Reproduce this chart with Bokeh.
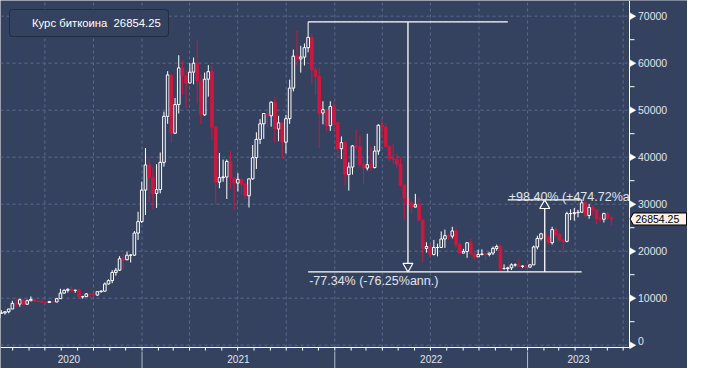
import pandas as pd
import numpy as np
from bokeh.plotting import figure
from bokeh.models import Range1d, Legend, LegendItem
from bokeh.core.properties import value
from bokeh.embed import file_html
from bokeh.resources import INLINE

# ---------------- data (weekly candles) ----------------
series_name = "Курс биткоина"
week_start = "2020-03-30"
first_open = 5880
close = [
    6780, 6900, 7120, 7700, 8900, 8750, 9670, 8720, 9450, 9750, 9380, 9300, 9120,
    9080, 9280, 9200, 9900, 11080, 11680, 11900, 11650, 11700, 10280, 10330, 10920,
    10780, 10670, 11380, 11500, 13030, 13740, 15480, 15960, 18400, 18180, 19150,
    19150, 23860, 26300, 33000,
    38350, 35800, 32300, 33100, 38900, 48700, 57500, 45100, 51200, 59000, 57350,
    55800, 58100, 60000, 56200, 49000, 56600, 58200, 46400, 34700, 35650, 35800,
    39100, 35600, 34500, 35300, 34260, 31800, 35400, 39900, 43800, 47100, 49300,
    48800, 51700, 46000, 47300, 43200, 48200, 54700, 61500, 60900, 61300, 63300,
    65500, 58600, 57200, 49400, 50100, 46700, 50800, 47300,
    41800, 43100, 36300, 37900, 42400, 42200, 38400, 37700, 38400, 37800, 41300,
    46800, 46400, 42300, 39700, 39500, 38500, 34100, 31300, 30300, 29400, 29900,
    26600, 20600, 21000, 19300, 20800, 20800, 22600, 23300, 23200, 24300, 21500,
    19600, 19950, 21800, 19400, 18800, 19300, 19400, 19300, 19600, 20600, 21000,
    16300, 16300, 16450, 17100, 17100, 16750, 16850, 16600,
    17100, 20900, 22700, 23700, 22900, 21800, 24600, 23500, 22400, 22100, 28000,
    28000, 28200, 28300, 30300, 27600, 29300, 28800, 26900, 26800, 28000, 27100,
    26854.25,
]
high = [
    7200, 7470, 7250, 7730, 9450, 10000, 9900, 9850, 9700, 10380, 9950, 9600, 9780,
    9300, 9430, 9300, 10050, 12000, 11900, 12100, 12480, 11800, 12050, 10500, 11100,
    10960, 10950, 11430, 11700, 13350, 14000, 15960, 16450, 18950, 19450, 19900,
    19400, 24280, 28400, 34800,
    41950, 40100, 37900, 38500, 41000, 49700, 58300, 57500, 52600, 61700, 60600,
    58400, 60000, 61200, 64900, 57500, 58000, 59600, 59500, 46600, 40900, 39500,
    39500, 41300, 35800, 36600, 35100, 34600, 35400, 42600, 45300, 48100, 49400,
    50500, 51900, 52900, 48800, 47000, 49000, 56500, 62900, 67000, 63700, 64200,
    68789, 66300, 59300, 59100, 51900, 50000, 51900, 52000,
    47500, 44400, 43500, 38900, 42600, 45800, 44500, 39800, 45000, 42400, 42400,
    47000, 48200, 47200, 42400, 42900, 40800, 40000, 34200, 31300, 30600, 32200,
    31500, 26900, 21900, 21500, 22400, 21600, 24200, 24600, 23600, 25200, 25000,
    21800, 20500, 21800, 22700, 19700, 20300, 20400, 19500, 19700, 21000, 21400,
    21400, 17200, 16700, 17400, 17400, 18400, 17000, 16900,
    17200, 21200, 23300, 23900, 24200, 23400, 25200, 25100, 23900, 22600, 28400,
    28900, 29200, 28800, 30927, 30500, 30000, 29800, 28900, 27600, 28200, 28400,
    27400,
]
low = [
    5860, 6780, 6500, 6800, 7700, 8100, 8200, 8700, 8650, 9400, 9250, 9200, 8950,
    8950, 9080, 9050, 9150, 9900, 11050, 11200, 11350, 11150, 9900, 9900, 10250,
    10150, 10400, 10530, 11200, 11400, 12900, 13200, 14800, 15800, 16300, 18100,
    17600, 19000, 22400, 26000,
    27700, 30400, 28900, 29200, 32300, 38000, 47100, 43000, 45000, 49300, 53300,
    50400, 55700, 55500, 51500, 47000, 48800, 52900, 43800, 30000, 33400, 34800,
    31100, 33300, 28800, 32700, 32100, 31100, 29300, 35200, 37500, 42800, 43900,
    46400, 46500, 43000, 43400, 39600, 40800, 47100, 54000, 59500, 58000, 59500,
    62300, 55600, 53300, 42000, 47000, 45500, 45600, 45700,
    39700, 39600, 34000, 32900, 36300, 41700, 38000, 34300, 37200, 37200, 37600,
    40500, 44200, 42100, 39200, 38600, 37700, 33700, 26700, 28700, 28000, 29300,
    26600, 17600, 19700, 18700, 19100, 18900, 20800, 20700, 22400, 22700, 20800,
    19600, 19600, 18600, 19300, 18200, 18800, 19100, 18200, 18900, 19200, 20100,
    15700, 16100, 15588, 16000, 16700, 16600, 16400, 16400,
    16600, 17100, 20400, 22300, 22500, 21500, 21400, 22900, 22000, 19600, 21900,
    26600, 26500, 27200, 28200, 27100, 26900, 27700, 25800, 26300, 26100, 26600,
    25400,
]
year_labels = ["2020", "2021", "2022", "2023"]
y_ticks = [0, 10000, 20000, 30000, 40000, 50000, 60000, 70000]
y_tick_labels = ["0", "10000", "20000", "30000", "40000", "50000", "60000", "70000"]
y_minor = [5000, 15000, 25000, 35000, 45000, 55000, 65000]
down_ann = "(-76.25%ann.)"
up_ann = "(+474.72%ann.)"

# ---------------- styling ----------------
BG = "#34425f"
GRID = "#5b6b8e"
RED = "#cc1840"
TXT = "#e1e5ec"
FONT = "Liberation Sans"

W, H = 687, 368
AX_PX = 629            # pixel column of the price axis line
x_start = pd.Timestamp("2020-04-08")
x_axis = pd.Timestamp("2023-07-13")
per_px = (x_axis - x_start) / AX_PX
x_end = x_start + per_px * W
y_start, y_end = -4957.0, 73340.0
dv = (y_end - y_start) / H  # data units per pixel (vertical)


def v_at(py):
    return y_end - py * dv


def x_at(px):
    return x_start + per_px * px


opens = [first_open] + close[:-1]
dates = pd.date_range(week_start, periods=len(close), freq="7D")
centers = dates + pd.Timedelta(days=3.5)
o = np.array(opens, dtype=float)
c = np.array(close, dtype=float)
hi = np.array(high, dtype=float)
lo = np.array(low, dtype=float)
up = c >= o
dn = ~up

p = figure(width=W, height=H, x_range=Range1d(x_start, x_end),
           y_range=Range1d(y_start, y_end), x_axis_type="datetime",
           x_axis_location=None, y_axis_location=None,
           output_backend="svg", toolbar_location=None,
           min_border_left=0, min_border_top=0, min_border_bottom=0,
           min_border_right=0)
p.background_fill_color = BG
p.border_fill_color = BG
p.outline_line_color = None
p.grid.visible = False

v_axis = v_at(347)
n_t = len(y_ticks)

# grid
p.segment(x0=[x_start] * n_t, x1=[x_axis] * n_t, y0=y_ticks, y1=y_ticks,
          line_color=GRID, line_dash="3 3", line_width=1)
quarters = pd.date_range("2020-04-01", x_axis, freq="QS")
p.segment(x0=quarters, x1=quarters, y0=[v_axis] * len(quarters), y1=[y_end] * len(quarters),
          line_color=GRID, line_dash="3 3", line_width=1)

# candles: hollow white for rising weeks, filled red for falling weeks
wid = 5.0 * 24 * 3600 * 1000
p.segment(x0=centers[up], x1=centers[up], y0=hi[up], y1=lo[up], line_color="white", line_width=1)
p.segment(x0=centers[dn], x1=centers[dn], y0=hi[dn], y1=lo[dn], line_color=RED, line_width=1)
p.vbar(x=centers[up], width=wid, top=np.maximum(o, c)[up], bottom=np.minimum(o, c)[up],
       fill_color=BG, line_color="white", line_width=1)
p.vbar(x=centers[dn], width=wid, top=np.maximum(o, c)[dn], bottom=np.minimum(o, c)[dn],
       fill_color=RED, line_color=RED, line_width=1)

# drawdown / recovery annotation
ip = int(np.argmax(hi))
it = ip + int(np.argmin(lo[ip:]))
ir = it + int(np.argmax(hi[it:]))
px, tx, rx = centers[ip], centers[it], centers[ir]
pv, tv, rv = hi[ip], lo[it], hi[ir]
mid1 = px + (tx - px) / 2
mid2 = tx + (rx - tx) / 2
p.segment(x0=[px, mid1, px, mid2, tx], x1=[tx, mid1, rx, mid2, rx],
          y0=[pv, pv, tv, tv, rv], y1=[pv, tv, tv, rv, rv],
          line_color="white", line_width=1.3)
tri = 10
off = tri / 2 * np.sqrt(3) * 2 / 3
p.scatter(x=[mid1], y=[tv + off * dv], marker="inverted_triangle", size=tri,
          fill_color=BG, line_color="white", line_width=1.2)
p.scatter(x=[mid2], y=[rv - off * dv], marker="triangle", size=tri,
          fill_color=BG, line_color="white", line_width=1.2)
t1 = f"{(tv / pv - 1) * 100:.2f}% {down_ann}"
t2 = f"+{(rv / tv - 1) * 100:.2f}% {up_ann}"
p.text(x=[px], y=[tv], text=[t1], text_baseline="top", text_align="left", x_offset=1, y_offset=2,
       text_color=TXT, text_font=value(FONT), text_font_size="12.5px")
p.text(x=[tx], y=[rv], text=[t2], text_baseline="alphabetic", text_align="left", x_offset=1,
       y_offset=-3, text_color=TXT, text_font=value(FONT), text_font_size="12.5px")

# the axis area to the right of the price axis (covers anything running past it)
p.quad(left=[x_axis], right=[x_end], bottom=[y_start], top=[y_end],
       fill_color=BG, line_color=None)

# bottom time axis
p.segment(x0=[x_start], x1=[x_axis], y0=[v_axis], y1=[v_axis], line_color="white", line_width=1)
months = pd.date_range("2020-05-01", x_axis, freq="MS")
p.segment(x0=months, x1=months, y0=[v_axis] * len(months), y1=[v_at(350)] * len(months),
          line_color="white", line_width=1)
year_starts = [pd.Timestamp(f"{y}-01-01") for y in year_labels]
seps = year_starts[1:]
p.segment(x0=seps, x1=seps, y0=[v_at(351)] * len(seps), y1=[y_start] * len(seps),
          line_color="#b3bbc9", line_width=1)
lab_x = []
for ys in year_starts:
    a = max(ys, dates[0])
    b = min(ys + pd.DateOffset(years=1), x_axis)
    lab_x.append(a + (b - a) / 2)
p.text(x=lab_x, y=[v_at(358)] * len(lab_x), text=year_labels, text_align="center",
       text_baseline="middle", text_color=TXT, text_font=value(FONT), text_font_size="10px")

# right price axis
p.segment(x0=[x_axis], x1=[x_axis], y0=[v_axis], y1=[y_end], line_color="white", line_width=1)
p.scatter(x=[x_at(AX_PX + 2.2)] * n_t, y=y_ticks, marker="triangle", angle=-np.pi / 2,
          size=7, fill_color="white", line_color="white", line_width=0.5)
p.segment(x0=[x_axis] * len(y_minor), x1=[x_at(AX_PX + 5)] * len(y_minor), y0=y_minor, y1=y_minor,
          line_color="white", line_width=1)
lab_off = [-4 if t == 0 else 0 for t in y_ticks]
p.text(x=[x_at(AX_PX + 8.5)] * n_t, y=y_ticks, text=y_tick_labels, text_align="left",
       text_baseline="middle", y_offset=lab_off, text_color=TXT, text_font=value(FONT),
       text_font_size="10.5px")

# last price tag
last = close[-1]
hh = 6 * dv
p.patch(x=[x_at(AX_PX + 0.5), x_at(AX_PX + 4), x_at(W - 1), x_at(W - 1), x_at(AX_PX + 4)],
        y=[last, last + hh, last + hh, last - hh, last - hh],
        fill_color="#fdf1ea", line_color="black", line_width=1)
p.text(x=[x_at(AX_PX + 6)], y=[last], text=[f"{last:.2f}"], text_align="left",
       text_baseline="middle", text_color="black", text_font=value(FONT), text_font_size="10.5px")

# legend
r_leg = p.quad(left=[], right=[], top=[], bottom=[], fill_color="white", line_color="white")
legend = Legend(items=[LegendItem(label=f"{series_name}  {last:.2f}", renderers=[r_leg])],
                location=(9, H - 11 - 26), orientation="vertical")
legend.background_fill_color = BG
legend.background_fill_alpha = 1
legend.border_line_color = "#0e1522"
legend.border_line_width = 1
legend.label_text_color = "white"
legend.label_text_font = FONT
legend.label_text_font_size = "11.3px"
legend.glyph_width = 10
legend.glyph_height = 10
legend.label_height = 12
legend.label_standoff = 5
legend.padding = 7
legend.margin = 0
legend.spacing = 0
try:
    legend.border_radius = 4
except Exception:
    pass
p.add_layout(legend)

open("out.html", "w").write(file_html(p, INLINE))
